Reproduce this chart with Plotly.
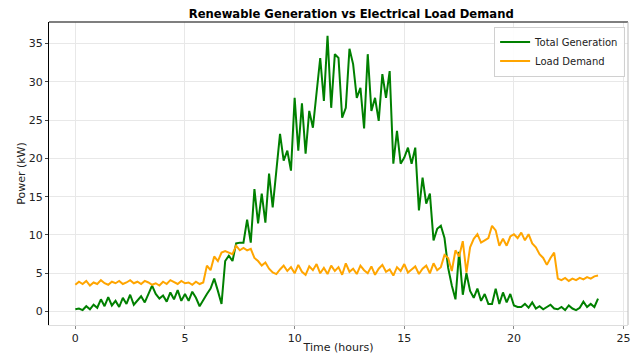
import numpy as np
import plotly.graph_objects as go

# Time grid: 10-minute steps over 24 hours
hours = np.arange(144) / 6.0

total_generation = [
    0.3, 0.4, 0.2, 0.7, 0.3, 0.9,
    0.5, 1.6, 0.7, 1.9, 0.8, 1.4,
    0.6, 1.8, 1.0, 2.2, 0.9, 1.5,
    2.0, 1.2, 2.4, 3.4, 2.3, 1.7,
    2.1, 1.3, 2.5, 1.6, 2.8, 1.4,
    2.3, 1.4, 2.6, 1.8, 0.7, 1.6,
    2.3, 3.0, 4.3, 2.7, 1.0, 6.6,
    7.3, 6.6, 8.9, 9.0, 9.0, 12.0,
    9.0, 16.0, 11.5, 15.4, 11.6, 18.0,
    13.6, 18.4, 23.2, 19.7, 21.0, 18.4,
    27.9, 21.0, 27.2, 20.6, 26.2, 24.0,
    28.4, 33.1, 27.5, 36.0, 26.6, 33.6,
    33.1, 25.3, 26.6, 34.3, 32.3, 27.9,
    29.2, 23.9, 33.6, 26.2, 27.9, 24.9,
    31.0, 27.9, 31.4, 19.3, 23.6, 19.3,
    20.1, 21.4, 19.3, 21.4, 13.2, 17.5,
    14.1, 15.4, 9.3, 10.8, 11.2, 9.6,
    5.7, 3.4, 1.6, 7.8, 2.2, 5.0,
    2.7, 1.8, 3.0, 1.4, 2.3, 1.0,
    1.0, 3.0, 1.0, 2.5, 1.2, 2.3,
    0.8, 0.6, 0.6, 1.0, 0.5, 1.2,
    0.4, 0.7, 0.3, 0.6, 0.9, 0.4,
    0.3, 0.6, 0.2, 0.8, 0.4, 0.2,
    0.5, 1.3, 0.6, 1.0, 0.6, 1.7,
]

load_demand = [
    3.5, 3.9, 3.6, 4.0, 3.4, 3.8,
    3.6, 4.1, 3.7, 3.5, 3.9, 3.7,
    4.0, 3.6, 3.8, 4.1, 3.7, 3.9,
    3.6, 4.0, 3.8, 3.5, 3.7, 3.4,
    3.9, 3.6, 4.1, 3.8, 3.6, 4.0,
    3.7, 3.8, 3.5, 3.9, 3.6, 3.8,
    6.0, 5.4, 7.2, 6.6, 7.7, 7.9,
    7.7, 7.5, 8.6, 8.0, 8.3, 8.0,
    8.2, 7.0, 6.6, 6.0, 6.4, 5.6,
    5.1, 4.9, 5.5, 6.0, 5.3, 5.8,
    5.0, 6.1, 5.2, 4.8, 5.9, 5.4,
    6.2, 5.0, 5.7, 4.9, 6.0, 5.3,
    5.8, 4.8, 6.3, 5.2, 5.6, 4.9,
    6.0, 5.4, 5.0, 5.9, 4.8, 5.6,
    6.1, 5.2, 5.5, 4.7, 5.8, 5.3,
    6.2, 5.1, 5.5, 5.9, 4.9, 5.6,
    6.0, 5.0, 6.3, 5.4, 5.8, 7.4,
    7.0, 5.3, 8.0, 7.2, 9.2, 5.1,
    8.4, 9.5, 10.1, 9.0, 9.3, 9.6,
    11.2, 10.6, 8.6, 9.5, 8.6, 9.8,
    10.1, 9.6, 10.3, 9.3, 10.1, 8.9,
    8.4, 7.5, 7.0, 6.1, 7.0, 7.7,
    4.3, 4.1, 4.4, 4.0, 4.3, 4.1,
    4.4, 4.2, 4.5, 4.3, 4.6, 4.7,
]

x_ticks = [0, 5, 10, 15, 20, 25]
y_ticks = [0, 5, 10, 15, 20, 25, 30, 35]

FONT = "DejaVu Sans"

fig = go.Figure()
fig.add_trace(go.Scatter(x=hours, y=total_generation, mode="lines",
                         name="Total Generation",
                         line=dict(color="#008000", width=2)))
fig.add_trace(go.Scatter(x=hours, y=load_demand, mode="lines",
                         name="Load Demand",
                         line=dict(color="#FFA500", width=2)))

fig.update_layout(
    width=637, height=354,
    margin=dict(l=49, r=9, t=22, b=29),
    paper_bgcolor="white", plot_bgcolor="white",
    font=dict(family=FONT, size=11, color="#222222"),
    title=dict(text="<b>Renewable Generation vs Electrical Load Demand</b>",
               x=0.522, xref="paper", y=0.96, yref="container",
               xanchor="center", yanchor="middle",
               font=dict(family=FONT, size=11.6, color="black")),
    showlegend=True,
    legend=dict(x=0.995, y=0.985, xanchor="right", yanchor="top",
                bgcolor="rgba(255,255,255,0.9)", bordercolor="#d0d0d0",
                borderwidth=1, font=dict(family=FONT, size=10, color="#222222"),
                tracegroupgap=0, itemwidth=30),
)

fig.update_xaxes(
    range=[-1.2, 25.2], tickvals=x_ticks,
    showgrid=True, gridcolor="#e8e8e8", gridwidth=1,
    zeroline=False, showline=True, linecolor="#dddddd", linewidth=1,
    mirror=False, ticks="outside", ticklen=3, tickcolor="#888888",
    title=dict(text="Time (hours)", standoff=2,
               font=dict(family=FONT, size=11, color="#222222")),
    automargin=False,
)
fig.update_yaxes(
    range=[-1.75, 37.8], tickvals=y_ticks,
    showgrid=True, gridcolor="#e8e8e8", gridwidth=1,
    zeroline=False, showline=True, linecolor="black", linewidth=1,
    ticks="outside", ticklen=3, tickcolor="#444444",
    title=dict(text="Power (kW)", standoff=0,
               font=dict(family=FONT, size=11, color="#222222")),
    automargin=False,
)

# Top and right frame lines
fig.add_shape(type="line", xref="paper", yref="paper", x0=0, x1=1, y0=1, y1=1,
              line=dict(color="#555555", width=1.5))
fig.add_shape(type="line", xref="paper", yref="paper", x0=1, x1=1, y0=0, y1=1,
              line=dict(color="#bbbbbb", width=1))

fig.write_html("out.html")
